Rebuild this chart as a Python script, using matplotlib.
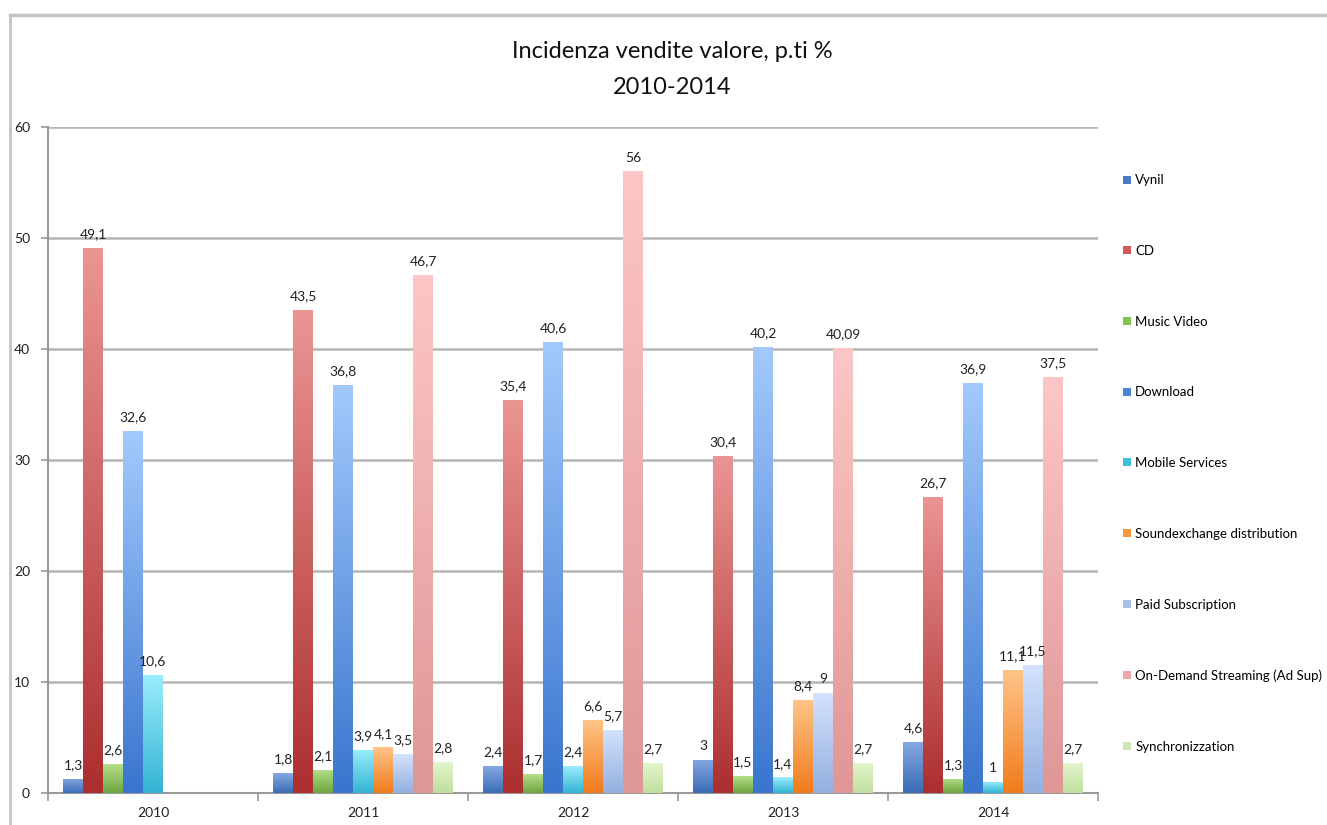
import numpy as np
import matplotlib
matplotlib.use("Agg")
import matplotlib.pyplot as plt
from matplotlib.colors import LinearSegmentedColormap
from matplotlib.lines import Line2D
from matplotlib.patches import Patch

plt.rcParams['font.family'] = ['Lato', 'DejaVu Sans']

years = ["2010", "2011", "2012", "2013", "2014"]
series = ["Vynil", "CD", "Music Video", "Download", "Mobile Services",
          "Soundexchange distribution", "Paid Subscription",
          "On-Demand Streaming (Ad Sup)", "Synchronizzation"]

vynil = [1.3, 1.8, 2.4, 3, 4.6]
cd = [49.1, 43.5, 35.4, 30.4, 26.7]
music_video = [2.6, 2.1, 1.7, 1.5, 1.3]
download = [32.6, 36.8, 40.6, 40.2, 36.9]
mobile = [10.6, 3.9, 2.4, 1.4, 1]
soundexchange = [None, 4.1, 6.6, 8.4, 11.1]
paid_subscription = [None, 3.5, 5.7, 9, 11.5]
on_demand = [None, 46.7, 56, 40.09, 37.5]
synchronization = [None, 2.8, 2.7, 2.7, 2.7]

values = [vynil, cd, music_video, download, mobile, soundexchange,
          paid_subscription, on_demand, synchronization]

# (bottom, top, legend swatch) colours for the vertical gradient of each series
palette = [
    ("#3a6db5", "#86a8e2", "#4a7cc4"),
    ("#ad2f2f", "#eb9494", "#cf5a5a"),
    ("#6fa53e", "#b5df8a", "#84bf52"),
    ("#3a76cf", "#a2c9fc", "#4a84d8"),
    ("#34b4d4", "#9aedfc", "#3cc0dc"),
    ("#f07c1c", "#ffc488", "#f8963a"),
    ("#93b0df", "#d3e2fc", "#a8c0ea"),
    ("#df9696", "#fdc6c6", "#eaa8a8"),
    ("#bfdf9e", "#e3f5cc", "#cce8b0"),
]

fig = plt.figure(figsize=(13.27, 8.25), dpi=100)
ax = fig.add_axes([48 / 1327, 1 - 793 / 825, (1098 - 48) / 1327, (793 - 127) / 825])

n = len(series)
width = 1 / 10.5
x = np.arange(len(years))
grid_col = "#b5b5b5"
text_col = "#222222"

for i, (vals, (c_lo, c_hi, c_mid)) in enumerate(zip(values, palette)):
    cmap = LinearSegmentedColormap.from_list(f"g{i}", [c_lo, c_hi])
    grad = np.linspace(1, 0, 64).reshape(-1, 1)
    for j, v in enumerate(vals):
        if v is None:
            continue
        xc = x[j] - (n - 1) / 2 * width + i * width
        bar = ax.bar(xc, v, width=width, color=c_mid, linewidth=0, zorder=3)[0]
        img = ax.imshow(grad, cmap=cmap, aspect="auto", zorder=3.5,
                        extent=(xc - width / 2, xc + width / 2, 0, v),
                        interpolation="bilinear")
        img.set_clip_path(bar)
        ax.text(xc, v + 0.7, f"{v:g}".replace(".", ","), ha="center",
                va="bottom", fontsize=10, color=text_col, zorder=5)

ax.set_xlim(-0.5, len(years) - 0.5)
ax.set_ylim(0, 60)
ax.set_yticks(range(0, 61, 10))
ax.tick_params(axis="y", length=5, width=1.2, color="#9a9a9a", pad=8,
               labelsize=10, labelcolor=text_col)
ax.set_xticks(np.arange(-0.5, len(years), 1))
ax.set_xticklabels([])
ax.set_xticks(x, minor=True)
ax.set_xticklabels(years, minor=True)
ax.tick_params(axis="x", which="major", length=6, width=1.2, color="#9a9a9a",
               direction="out")
ax.tick_params(axis="x", which="minor", length=0, pad=10, labelsize=10,
               labelcolor=text_col)
ax.yaxis.grid(True, color=grid_col, linewidth=1.8, zorder=1)
ax.set_axisbelow(True)
for s in ("top", "right"):
    ax.spines[s].set_visible(False)
for s in ("left", "bottom"):
    ax.spines[s].set_color("#9a9a9a")
    ax.spines[s].set_linewidth(1.5)

handles = [Patch(facecolor=p[2], edgecolor="none") for p in palette]
fig.legend(handles, series, loc="upper left",
           bbox_to_anchor=(1118 / 1327, 1 - 169 / 825), frameon=False,
           fontsize=9.5, handlelength=0.55, handleheight=0.55,
           handletextpad=0.35, labelspacing=4.45, borderaxespad=0)

fig.text(0.5065, 1 - 52 / 825, "Incidenza vendite valore, p.ti %",
         ha="center", va="center", fontsize=17, color="#111111")
fig.text(0.5065, 1 - 87 / 825, "2010-2014", ha="center", va="center",
         fontsize=17, color="#111111")

# outer frame
fig.add_artist(Line2D([10 / 1327, 1], [1 - 15 / 825] * 2, color="#c4c4c4",
                      linewidth=2.5, transform=fig.transFigure))
fig.add_artist(Line2D([10 / 1327] * 2, [0, 1 - 15 / 825], color="#c4c4c4",
                      linewidth=2.0, transform=fig.transFigure))

fig.savefig("out.png", dpi=100)
